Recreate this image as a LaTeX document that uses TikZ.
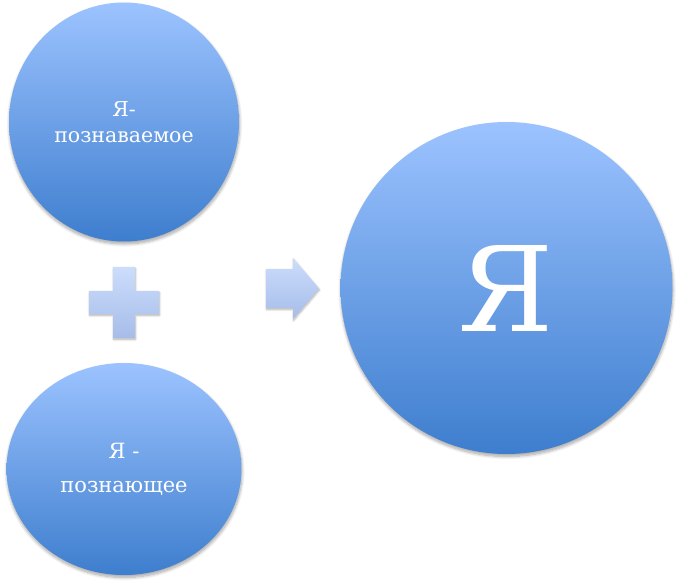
\documentclass[tikz,border=0pt]{standalone}
\usepackage{fontspec}
\setmainfont{DejaVu Serif}
\usetikzlibrary{shapes.geometric,shadows.blur}
\definecolor{ctop}{HTML}{9CC3FF}
\definecolor{cbot}{HTML}{3E7ECE}
\definecolor{ptop}{HTML}{CCDDFC}
\definecolor{pbot}{HTML}{A6BDE9}
\begin{document}
\begin{tikzpicture}[x=1pt,y=-1pt,
  blob/.style={ellipse, inner sep=0pt, top color=ctop, bottom color=cbot, draw=none,
    text=white, align=center,
    blur shadow={shadow xshift=0.5pt, shadow yshift=-2.5pt, shadow blur steps=8,
      shadow opacity=35, shadow blur radius=3pt}},
  sign/.style={top color=ptop, bottom color=pbot, draw=none,
    blur shadow={shadow xshift=0.5pt, shadow yshift=-1.5pt, shadow blur steps=6,
      shadow opacity=30, shadow blur radius=2pt}}]
\useasboundingbox (0,0) rectangle (678,585);
\node[blob, minimum width=230pt, minimum height=239pt,
  font=\fontsize{20.5}{26}\selectfont] (known) at (124,122) {Я-\\познаваемое};
\node[blob, minimum width=235pt, minimum height=212pt,
  font=\fontsize{21}{26}\selectfont] (knower) at (124,469) {Я -\\[8pt]познающее};
\node[blob, minimum width=332pt, minimum height=332pt,
  font=\fontsize{118}{118}\selectfont] (self) at (506.5,288) {Я};
\path[sign] (113,267) -- (135,267) -- (135,291) -- (159,291) -- (159,314)
  -- (135,314) -- (135,338) -- (113,338) -- (113,314) -- (89,314)
  -- (89,291) -- (113,291) -- cycle;
\path[sign] (266,269) -- (293,269) -- (293,258) -- (319,288.5) -- (293,319)
  -- (293,308) -- (266,308) -- cycle;
\end{tikzpicture}
\end{document}
